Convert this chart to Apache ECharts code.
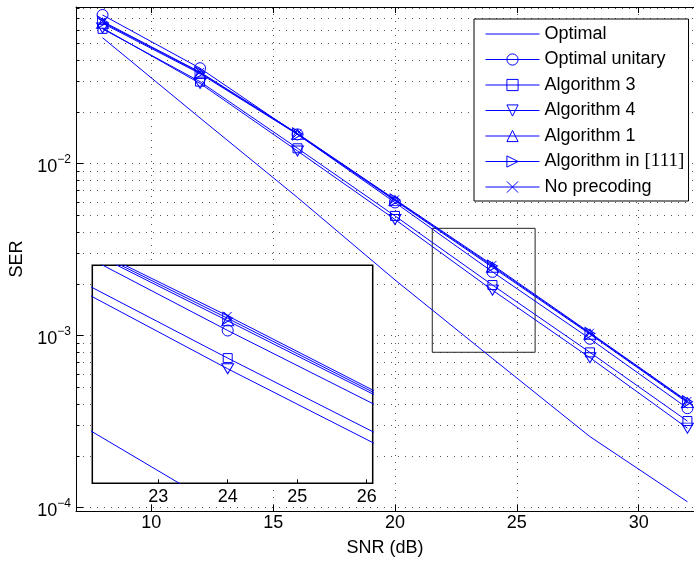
<!DOCTYPE html>
<html><head><meta charset="utf-8">
<script src="https://cdn.jsdelivr.net/npm/echarts@6/dist/echarts.min.js"></script>
<style>html,body{margin:0;padding:0;background:#fff}#c{width:694px;height:565px}</style>
</head><body><div id="c"></div>
<script>
// ---- data ----
const snr = [8, 12, 16, 20, 24, 28, 32];
const optimal        = [0.0540, 0.01844, 6.36e-3, 2.11e-3, 7.37e-4, 2.59e-4, 1.083e-4];
const optimalUnitary = [0.0732, 0.0359, 0.0148, 5.95e-3, 2.35e-3, 9.6e-4, 3.79e-4];
const algorithm3     = [0.0608, 0.0300, 0.01229, 4.97e-3, 1.97e-3, 8.0e-4, 3.19e-4];
const algorithm4     = [0.0615, 0.0293, 0.01185, 4.74e-3, 1.84e-3, 7.45e-4, 2.90e-4];
const algorithm1     = [0.0655, 0.0334, 0.0148, 6.10e-3, 2.50e-3, 1.02e-3, 4.08e-4];
const algorithm111   = [0.0665, 0.0338, 0.0149, 6.15e-3, 2.54e-3, 1.03e-3, 4.13e-4];
const noPrecoding    = [0.0672, 0.0341, 0.01498, 6.20e-3, 2.58e-3, 1.04e-3, 4.17e-4];
const seriesNames = ['Optimal', 'Optimal unitary', 'Algorithm 3', 'Algorithm 4', 'Algorithm 1', 'Algorithm in [111]', 'No precoding'];
const xTickLabels = [10, 15, 20, 25, 30];
const insetXTickLabels = [23, 24, 25, 26];
const yMajorTicks = [1e-4, 1e-3, 1e-2];
const yMinorMultipliers = [2, 3, 4, 5, 6, 7, 8, 9];
const zoomBoxX = [21.53, 25.75];
const zoomBoxY = [8.01e-4, 4.21e-3];

// ---- styling ----
const FONT = 'Liberation Sans, Arial, sans-serif';
const FS = 18;
const BLUE = '#0000ff';
const mainX = [6.91, 32.27];
const mainY = [9.568e-5, 0.08147];
const insetX = [22.052, 26.086];
const insetY = [8.85e-4, 3.565e-3];

const yAllTicks = [];
yMajorTicks.forEach(m => {
  yAllTicks.push(m);
  yMinorMultipliers.forEach(k => { const v = +(k * m).toPrecision(6); if (v <= mainY[1]) yAllTicks.push(v); });
});

const seriesData = [optimal, optimalUnitary, algorithm3, algorithm4, algorithm1, algorithm111, noPrecoding];
const markers = [
  {symbol: 'none', size: 0, rotate: 0},
  {symbol: 'circle', size: 11, rotate: 0},
  {symbol: 'rect', size: 9, rotate: 0},
  {symbol: 'triangle', size: [12, 10], rotate: 180},
  {symbol: 'triangle', size: [12, 10], rotate: 0},
  {symbol: 'triangle', size: [12, 10], rotate: -90},
  {symbol: 'path://M0,0L10,10M10,0L0,10', size: 8, rotate: 0}
];

function makeSeries(i, inset) {
  const m = markers[i];
  const s = {
    name: seriesNames[i],
    type: 'line',
    xAxisIndex: inset ? 2 : 0,
    yAxisIndex: inset ? 2 : 0,
    data: snr.map((x, j) => [x, seriesData[i][j]]),
    symbol: m.symbol,
    symbolSize: m.size,
    symbolRotate: m.rotate,
    showSymbol: m.symbol !== 'none',
    showAllSymbol: true,
    clip: true,
    lineStyle: {color: BLUE, width: 1},
    itemStyle: {color: 'rgba(0,0,0,0)', borderColor: BLUE, borderWidth: 1},
    emphasis: {disabled: true},
    z: inset ? 5 : 2,
    animation: false
  };
  if (!inset && i === 0) {
    s.markArea = {
      silent: true,
      itemStyle: {color: 'rgba(0,0,0,0)', borderColor: '#222', borderWidth: 1},
      data: [[{xAxis: zoomBoxX[0], yAxis: zoomBoxY[1]}, {xAxis: zoomBoxX[1], yAxis: zoomBoxY[0]}]]
    };
  }
  return s;
}

const series = [];
for (let i = 0; i < seriesNames.length; i++) series.push(makeSeries(i, false));
for (let i = 0; i < seriesNames.length; i++) series.push(makeSeries(i, true));

const dotted = {show: true, lineStyle: {color: '#555', width: 1, type: [1, 6]}};
const blackLine = {show: true, lineStyle: {color: '#000', width: 1}};

function expLabel(v) {
  const e = Math.round(Math.log10(v));
  return '{b|10}{e|' + (e < 0 ? '\u2212' + (-e) : e) + '}';
}

const option = {
  animation: false,
  backgroundColor: '#fff',
  textStyle: {fontFamily: FONT},
  grid: [
    {left: 76, top: 7, right: -2, bottom: 54, show: false},
    {left: 92.3, top: 265.3, width: 280.4, height: 218, show: true, backgroundColor: '#fff', borderColor: '#000', borderWidth: 1.5, z: 4}
  ],
  xAxis: [
    {type: 'value', gridIndex: 0, position: 'bottom', min: mainX[0], max: mainX[1],
     axisLine: blackLine,
     axisTick: {show: true, inside: true, length: 6, customValues: xTickLabels, lineStyle: {color: '#000'}},
     axisLabel: {customValues: xTickLabels, color: '#000', fontSize: FS, fontFamily: FONT, margin: 3},
     splitLine: dotted,
     name: 'SNR (dB)', nameLocation: 'middle', nameGap: 28,
     nameTextStyle: {color: '#000', fontSize: FS, fontFamily: FONT}},
    {type: 'value', gridIndex: 0, position: 'top', min: mainX[0], max: mainX[1],
     axisLine: blackLine,
     axisTick: {show: true, inside: true, length: 6, customValues: xTickLabels, lineStyle: {color: '#000'}},
     axisLabel: {show: false}, splitLine: {show: false}},
    {type: 'value', gridIndex: 1, position: 'bottom', min: insetX[0], max: insetX[1], z: 6,
     axisLine: {show: false},
     axisTick: {show: true, inside: true, length: 4, customValues: insetXTickLabels, lineStyle: {color: '#000'}},
     axisLabel: {customValues: insetXTickLabels, color: '#000', fontSize: FS, fontFamily: FONT, margin: 5},
     splitLine: {show: false}}
  ],
  yAxis: [
    {type: 'log', gridIndex: 0, position: 'left', min: mainY[0], max: mainY[1],
     axisLine: blackLine,
     axisTick: {show: true, inside: true, length: 3.5, customValues: yAllTicks, lineStyle: {color: '#000'}},
     axisLabel: {customValues: yMajorTicks, formatter: expLabel, margin: 5, color: '#000',
       rich: {b: {fontSize: FS, fontFamily: FONT, color: '#000', padding: [6, 0, 0, 0]},
              e: {fontSize: 12, fontFamily: FONT, color: '#000', padding: [0, 0, 8, 0]}}},
     splitLine: dotted,
     name: 'SER', nameLocation: 'middle', nameGap: 48, nameRotate: 90,
     nameTextStyle: {color: '#000', fontSize: FS, fontFamily: FONT}},
    {type: 'log', gridIndex: 0, position: 'left', min: mainY[0], max: mainY[1],
     axisLine: {show: false},
     axisTick: {show: true, inside: true, length: 7, customValues: yMajorTicks, lineStyle: {color: '#000'}},
     axisLabel: {show: false}, splitLine: {show: false}},
    {type: 'log', gridIndex: 1, position: 'left', min: insetY[0], max: insetY[1], z: 6,
     axisLine: {show: false}, axisTick: {show: false}, axisLabel: {show: false}, splitLine: {show: false}}
  ],
  legend: {
    orient: 'vertical', left: 474, top: 19,
    data: seriesNames.map(n => n === 'Optimal'
      ? {name: n, icon: 'path://M0,6.5H54V7.5H0Z M0,0H0.01V0.01H0Z M0,14H0.01V14.01H0Z', itemStyle: {borderWidth: 0, color: BLUE}}
      : n),
    itemWidth: 54, itemHeight: 14, itemGap: 5.5,
    lineStyle: {width: 1, color: BLUE},
    itemStyle: {borderWidth: 1, borderColor: BLUE, color: 'rgba(0,0,0,0)'},
    backgroundColor: '#fff', borderColor: '#000', borderWidth: 1,
    padding: [5, 4, 4, 11],
    selectedMode: false,
    formatter: n => n.replace('[111]', '{s|[111]}'),
    textStyle: {fontFamily: FONT, fontSize: FS, color: '#000', lineHeight: 20, width: 140,
      rich: {s: {fontFamily: 'Liberation Serif, serif', fontSize: 19, color: '#000', lineHeight: 20}}},
    z: 10
  },
  series: series
};

const chart = echarts.init(document.getElementById('c'), null, {renderer: 'canvas'});
chart.setOption(option);
</script></body></html>
